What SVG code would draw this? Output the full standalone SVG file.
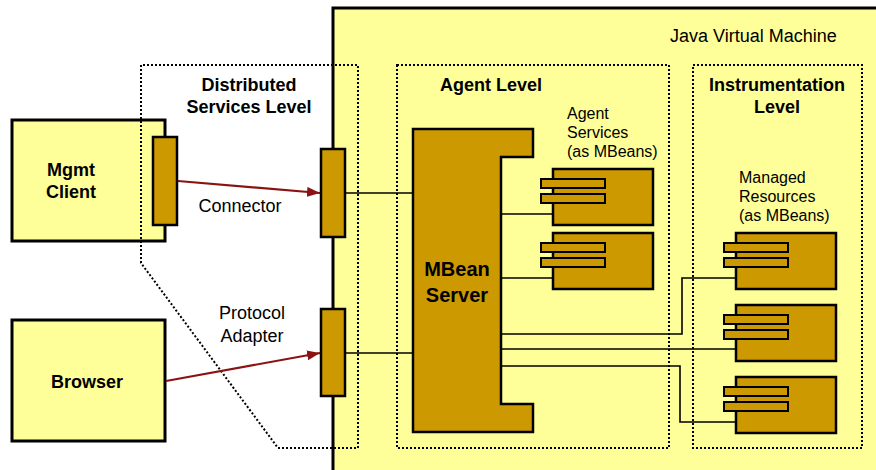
<svg xmlns="http://www.w3.org/2000/svg" width="876" height="470" viewBox="0 0 876 470">
  <style>
    .pale { fill: #FFFF99; stroke: #000; stroke-width: 3; }
    .gold { fill: #CC9900; stroke: #000; stroke-width: 2.5; }
    .tab { fill: #CC9900; stroke: #000; stroke-width: 2; }
    .zone { fill: none; stroke: #000; stroke-width: 2; stroke-dasharray: 2 2; }
    .wire { fill: none; stroke: #000; stroke-width: 1.6; }
    .flow { fill: none; stroke: #8B1212; stroke-width: 2.2; }
    text { font-family: "Liberation Sans", Arial, sans-serif; fill: #000; }
    .bold { font-weight: bold; font-size: 18px; }
    .plain { font-size: 18px; }
    .small { font-size: 16px; }
    .mid { text-anchor: middle; }
  </style>
  <defs>
    <marker id="head" markerUnits="userSpaceOnUse" markerWidth="14" markerHeight="10" refX="13" refY="5" orient="auto">
      <path d="M0,0 L13,5 L0,10 Z" fill="#8B1212"/>
    </marker>
    <!-- MBean component: body with two interface tabs -->
    <g id="component">
      <rect class="gold" x="12" y="0" width="100" height="56"/>
      <rect class="tab" x="0" y="10" width="64" height="9"/>
      <rect class="tab" x="0" y="25" width="64" height="9"/>
    </g>
  </defs>

  <rect width="876" height="470" fill="#fff"/>

  <!-- Java Virtual Machine -->
  <g id="jvm">
    <rect class="pale" x="333" y="8" width="560" height="480"/>
    <text class="plain" x="670" y="42">Java Virtual Machine</text>
  </g>

  <!-- Management client -->
  <g id="mgmt-client">
    <rect class="pale" x="12" y="120" width="153" height="121" stroke-width="2.5"/>
    <text class="bold mid" x="71" y="176">Mgmt</text>
    <text class="bold mid" x="71" y="198">Client</text>
  </g>

  <!-- Browser -->
  <g id="browser">
    <rect class="pale" x="12" y="320" width="153" height="121" stroke-width="2.5"/>
    <text class="bold mid" x="87" y="388">Browser</text>
  </g>

  <!-- Level boundaries -->
  <g id="distributed-level">
    <path class="zone" d="M141,263 V65 H358 V448 H278 Z"/>
    <text class="bold mid" x="249" y="91">Distributed</text>
    <text class="bold mid" x="249" y="113">Services Level</text>
  </g>
  <g id="agent-level">
    <rect class="zone" x="397" y="65" width="272" height="383"/>
    <text class="bold mid" x="491" y="91">Agent Level</text>
  </g>
  <g id="instrumentation-level">
    <rect class="zone" x="693" y="65" width="169" height="383"/>
    <text class="bold mid" x="777" y="91">Instrumentation</text>
    <text class="bold mid" x="777" y="113">Level</text>
  </g>

  <!-- Connectors -->
  <g id="connectors">
    <path class="flow" d="M178,181 L320,193" marker-end="url(#head)"/>
    <path class="flow" d="M166,381 L320,353" marker-end="url(#head)"/>
    <path class="wire" d="M345,193 H413"/>
    <path class="wire" d="M345,353 H413"/>
    <path class="wire" d="M501,214 H553"/>
    <path class="wire" d="M501,278 H553"/>
    <path class="wire" d="M501,334 H682 V278 H737"/>
    <path class="wire" d="M501,349 H737"/>
    <path class="wire" d="M501,366 H680 V422 H737"/>
    <text class="plain mid" x="240" y="212">Connector</text>
    <text class="plain mid" x="252" y="319">Protocol</text>
    <text class="plain mid" x="252" y="342">Adapter</text>
  </g>

  <!-- Client-side connector stub -->
  <g id="client-stub">
    <rect class="gold" x="153" y="137" width="24" height="88"/>
  </g>

  <!-- Ports on the JVM boundary -->
  <g id="connector-port">
    <rect class="gold" x="321" y="149" width="24" height="88"/>
  </g>
  <g id="adapter-port">
    <rect class="gold" x="321" y="309" width="24" height="87"/>
  </g>

  <!-- MBean Server -->
  <g id="mbean-server">
    <path class="gold" d="M413,129 H533 V157 H501 V404 H533 V432 H413 Z"/>
    <text class="mid" x="457" y="276" font-size="20" font-weight="bold">MBean</text>
    <text class="mid" x="457" y="302" font-size="20" font-weight="bold">Server</text>
  </g>

  <!-- Agent services -->
  <g id="agent-services">
    <text class="small" x="567" y="119">Agent</text>
    <text class="small" x="567" y="138">Services</text>
    <text class="small" x="567" y="157">(as MBeans)</text>
  </g>
  <g id="agent-service-1">
    <use href="#component" x="541" y="169"/>
  </g>
  <g id="agent-service-2">
    <use href="#component" x="541" y="233"/>
  </g>

  <!-- Managed resources -->
  <g id="managed-resources">
    <text class="small" x="739" y="183">Managed</text>
    <text class="small" x="739" y="202">Resources</text>
    <text class="small" x="739" y="221">(as MBeans)</text>
  </g>
  <g id="resource-1">
    <use href="#component" x="724" y="233"/>
  </g>
  <g id="resource-2">
    <use href="#component" x="724" y="305"/>
  </g>
  <g id="resource-3">
    <use href="#component" x="724" y="377"/>
  </g>
</svg>
